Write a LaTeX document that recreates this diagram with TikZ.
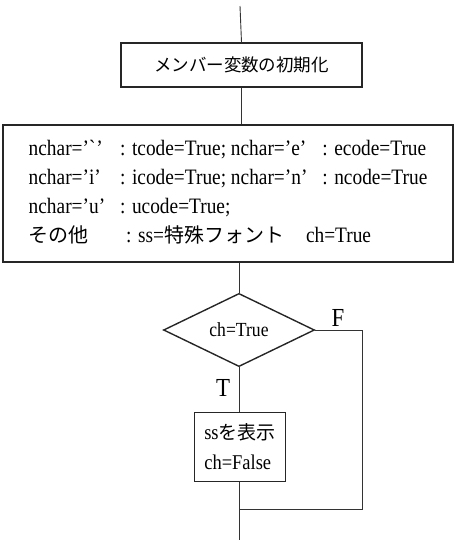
\documentclass[tikz,border=0pt]{standalone}
\usepackage{fontspec}
\setmainfont[FakeStretch=0.88]{Liberation Serif}
\newfontfamily\jp{Noto Sans CJK JP}
\usetikzlibrary{shapes.geometric}
\begin{document}
\begin{tikzpicture}[x=1pt,y=-1pt,
  box/.style={draw=black!85, line width=1.4pt, inner sep=0pt},
  conn/.style={draw=black!80, line width=0.9pt},
  lbl/.style={font=\fontsize{26}{26}\selectfont, inner sep=0pt},
]
\useasboundingbox (0,0) rectangle (455,542);
\coordinate (top) at (240,6);
\node[box, minimum width=241pt, minimum height=44pt] (init) at (241.5,65)
  {\fontsize{17.5}{20}\selectfont\jp メンバー変数の初期化};
\node[box, minimum width=450pt, minimum height=137pt] (sw) at (228,193.5)
  {\fontsize{22}{29}\selectfont
   \raisebox{-1.5pt}{\begin{tabular}{@{}l@{\hspace{15pt}}l@{\hspace{15pt}}l@{}}
   nchar='\textasciigrave' & : tcode=True; nchar='e' & : ecode=True\\
   nchar='i' & : icode=True; nchar='n' & : ncode=True\\
   nchar='u' & : ucode=True; & \\
   {\jp\fontsize{20}{29}\selectfont その他} & \multicolumn{2}{l}{: ss={\jp\fontsize{20}{29}\selectfont 特殊フォント}\quad ch=True}
   \end{tabular}}};
\node[diamond, box, minimum width=151pt, minimum height=65pt,
  font=\fontsize{20}{22}\selectfont] (dia) at (239,330) {ch=True};
\node[box, minimum width=91pt, minimum height=69pt, align=left,
  font=\fontsize{21}{30}\selectfont] (proc) at (240,447)
  {ss{\jp\fontsize{19}{30}\selectfont を表示}\\ch=False};
\coordinate (bot) at (239,540);
\coordinate (fr) at (362,509);
\coordinate (join) at (239,509);
\node[lbl] (Flbl) at (338,318) {F};
\node[lbl] (Tlbl) at (223,388) {T};
\draw[conn] (top) -- (init.north);
\draw[conn] (init.south) -- (init.south |- sw.north);
\draw[conn] (sw.south -| dia.north) -- (dia.north);
\draw[conn] (dia.south) -- (dia.south |- proc.north);
\draw[conn] (dia.south |- proc.south) -- (bot);
\draw[conn] (dia.east) -| (fr) -- (join);
\end{tikzpicture}
\end{document}
